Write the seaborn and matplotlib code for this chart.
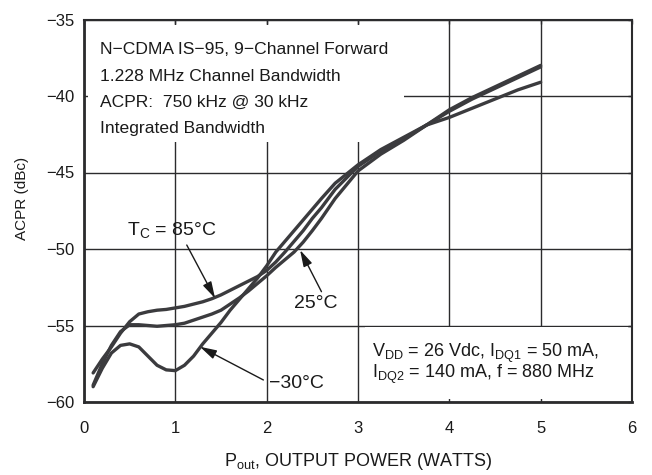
import matplotlib
matplotlib.use("Agg")
import matplotlib.pyplot as plt
from matplotlib.patches import Rectangle
import numpy as np
import pandas as pd
import seaborn as sns

# ---------------- data ----------------
power = [0.1, 0.2, 0.3, 0.4, 0.5, 0.6, 0.7, 0.8, 0.9, 1.0,
         1.1, 1.2, 1.3, 1.4, 1.5, 1.6, 1.7, 1.8, 1.9, 2.0,
         2.1, 2.2, 2.3, 2.4, 2.5, 2.6,
         2.75, 3.0, 3.25, 3.5, 3.75, 4.0, 4.25, 4.5, 4.75, 5.0]
acpr_m30 = [-59.0, -57.8, -56.8, -56.3, -56.2, -56.4, -57.0, -57.6, -57.9, -57.95,
            -57.6, -57.0, -56.2, -55.5, -54.8, -54.0, -53.3, -52.6, -51.9, -51.1,
            -50.2, -49.5, -48.8, -48.1, -47.4, -46.7,
            -45.7, -44.5, -43.5, -42.7, -41.9, -41.4, -40.8, -40.2, -39.6, -39.1]
acpr_25 = [-58.9, -57.5, -56.3, -55.4, -54.95, -54.95, -55.0, -55.05, -55.0, -54.95,
           -54.85, -54.65, -54.45, -54.25, -54.0, -53.6, -53.2, -52.75, -52.25, -51.75,
           -51.2, -50.7, -50.2, -49.55, -48.8, -48.0,
           -46.7, -44.9, -43.8, -42.9, -41.9, -41.0, -40.2, -39.5, -38.8, -38.1]
acpr_85 = [-58.1, -57.2, -56.4, -55.5, -54.75, -54.25, -54.1, -54.0, -53.95, -53.85,
           -53.75, -53.6, -53.45, -53.25, -53.0, -52.7, -52.4, -52.1, -51.8, -51.4,
           -50.85, -50.2, -49.5, -48.8, -48.0, -47.3,
           -46.1, -44.6, -43.6, -42.8, -41.9, -40.9, -40.1, -39.4, -38.7, -38.0]
temps = ["-30", "25", "85"]

x_ticks = [0, 1, 2, 3, 4, 5, 6]
y_ticks = [-60, -55, -50, -45, -40, -35]

info_lines = ["N\u2212CDMA IS\u221295, 9\u2212Channel Forward",
              "1.228 MHz Channel Bandwidth",
              "ACPR:  750 kHz @ 30 kHz",
              "Integrated Bandwidth"]
cond_lines = ["V$_{DD}$ = 26 Vdc, I$_{DQ1}$ = 50 mA,",
              "I$_{DQ2}$ = 140 mA, f = 880 MHz"]

# ---------------- style ----------------
sns.set_theme(style="white")
plt.rcParams["font.family"] = ["Liberation Sans", "DejaVu Sans"]
plt.rcParams["mathtext.default"] = "regular"
plt.rcParams["axes.unicode_minus"] = True

ink = "#2b2b2d"
line_c = "#3b3b3e"
txt_c = "#1a1a1a"

fig = plt.figure(figsize=(6.52, 4.75), dpi=100)
ax = fig.add_axes([84 / 652, 1 - 402 / 475, 548 / 652, 382.5 / 475])

df = pd.concat([
    pd.DataFrame({"power": power, "acpr": acpr_m30, "temp": temps[0]}),
    pd.DataFrame({"power": power, "acpr": acpr_25, "temp": temps[1]}),
    pd.DataFrame({"power": power, "acpr": acpr_85, "temp": temps[2]}),
])
sns.lineplot(data=df, x="power", y="acpr", hue="temp",
             palette=[line_c] * 3, linewidth=2.4, legend=False,
             estimator=None, sort=False, ax=ax, zorder=4)
for ln in ax.lines:
    ln.set_solid_capstyle("round")
    ln.set_solid_joinstyle("round")

ax.set_xlim(0, 6)
ax.set_ylim(-60, -35)
ax.set_xticks(x_ticks)
ax.set_yticks(y_ticks)
ax.set_xticklabels([str(v) for v in x_ticks])
ax.set_yticklabels([f"\u2212{abs(v)}" for v in y_ticks])
ax.grid(True, color=ink, linewidth=1.0)
ax.set_axisbelow(True)
ax.tick_params(axis="both", direction="in", length=3, width=1.0, color=ink,
               labelsize=12, labelcolor=txt_c, top=True, right=True)
ax.tick_params(axis="x", pad=14)
ax.tick_params(axis="y", pad=7)

for side in ["left", "bottom"]:
    ax.spines[side].set_linewidth(2.0)
for side in ["top", "right"]:
    ax.spines[side].set_linewidth(1.5)
for s in ax.spines.values():
    s.set_color(ink)
    s.set_zorder(5)

ax.set_xlabel("P$_{out}$, OUTPUT POWER (WATTS)", fontsize=13, color=txt_c)
ax.set_ylabel("ACPR (dBc)", fontsize=11, color=txt_c)
ax.xaxis.set_label_coords(0.5, -0.128)
ax.yaxis.set_label_coords(-0.10, 0.533)

# white backgrounds behind the text blocks (hide grid there)
ax.add_patch(Rectangle((0.04, -43.0), 3.46, 7.62, facecolor="white",
                       edgecolor="none", zorder=1))
ax.add_patch(Rectangle((3.08, -59.8), 2.88, 4.68, facecolor="white",
                       edgecolor="none", zorder=1))

info_y = [-37.27, -39.0, -40.73, -42.43]
for txt, yy in zip(info_lines, info_y):
    ax.text(0.175, yy, txt, fontsize=12.6, color=txt_c, va="baseline",
            ha="left", zorder=6)
cond_y = [-57.04, -58.43]
for txt, yy in zip(cond_lines, cond_y):
    ax.text(3.15, yy, txt, fontsize=13, color=txt_c, va="baseline",
            ha="left", zorder=6)

fs = 14
arrow_kw = dict(arrowstyle="-|>,head_length=1.0,head_width=0.28",
                color=txt_c, lw=1.0, shrinkA=0, shrinkB=0,
                mutation_scale=10)
ax.text(0.47, -49.08, "T$_C$ = 85\u00b0C", fontsize=fs, color=txt_c,
        va="baseline", ha="left", zorder=6)
ax.annotate("", xy=(1.435, -53.22), xytext=(1.125, -49.74), arrowprops=arrow_kw,
            zorder=6)
ax.text(2.54, -53.53, "25\u00b0C", fontsize=fs, color=txt_c,
        va="center", ha="center", zorder=6)
ax.annotate("", xy=(2.366, -50.07), xytext=(2.60, -52.79), arrowprops=arrow_kw,
            zorder=6)
ax.text(2.33, -58.76, "\u221230\u00b0C", fontsize=fs, color=txt_c,
        va="center", ha="center", zorder=6)
ax.annotate("", xy=(1.27, -56.39), xytext=(1.964, -58.56), arrowprops=arrow_kw,
            zorder=6)

fig.savefig("out.png", dpi=100, facecolor="white")
